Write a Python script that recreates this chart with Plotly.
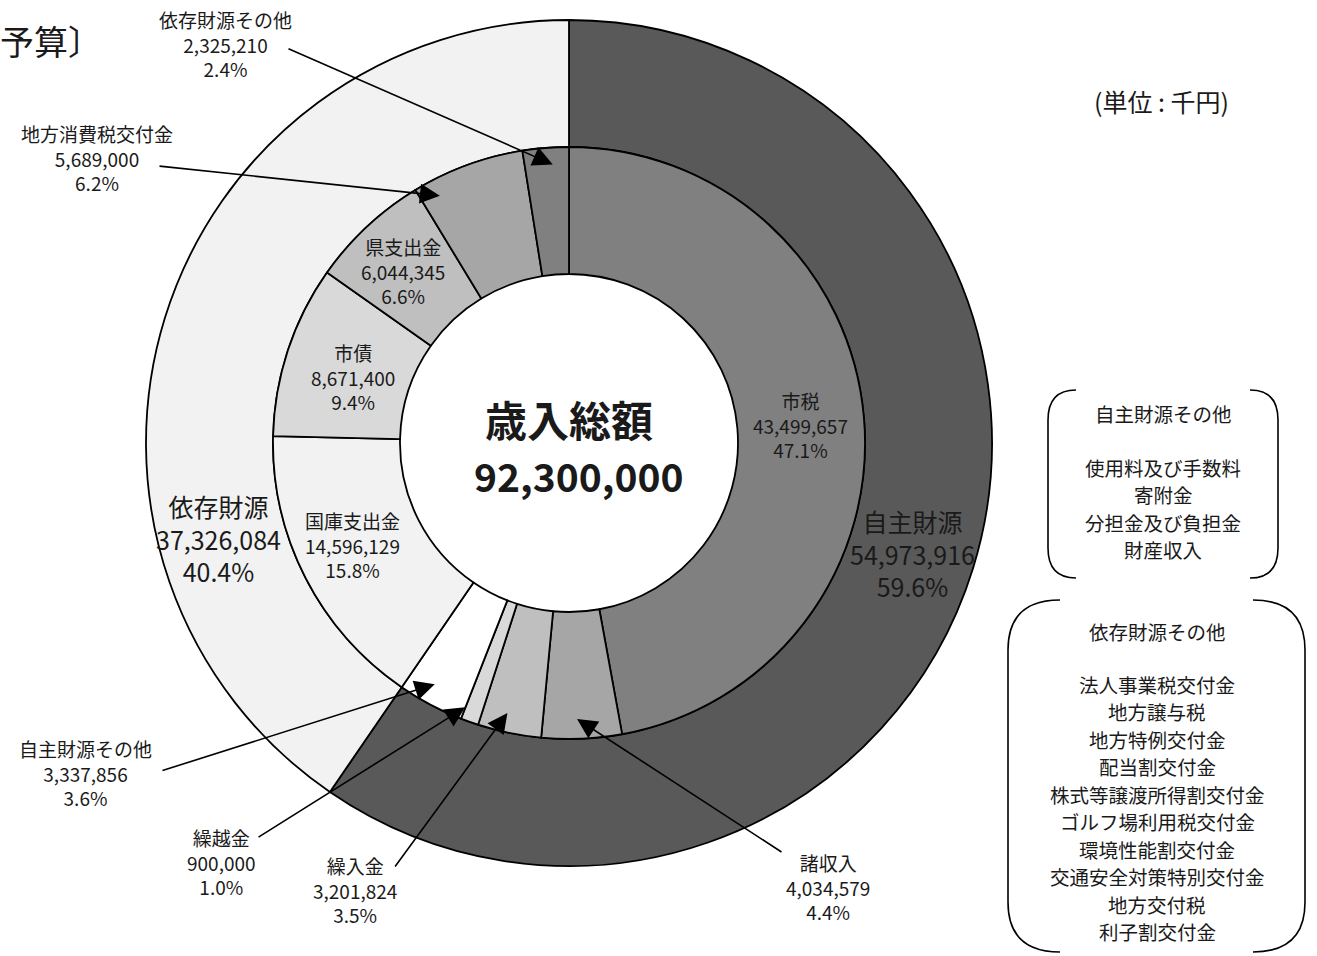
import math
import plotly.graph_objects as go

# ---------------- data ----------------
total_label = "歳入総額"
total_value = 92300000

outer_labels = ["自主財源", "依存財源"]
outer_values = [54973916, 37326084]
outer_pct = ["59.6%", "40.4%"]
outer_colors = ["#595959", "#f2f2f2"]

inner_labels = ["市税", "諸収入", "繰入金", "繰越金", "自主財源その他",
                "国庫支出金", "市債", "県支出金", "地方消費税交付金", "依存財源その他"]
inner_values = [43499657, 4034579, 3201824, 900000, 3337856,
                14596129, 8671400, 6044345, 5689000, 2325210]
inner_pct = ["47.1%", "4.4%", "3.5%", "1.0%", "3.6%",
             "15.8%", "9.4%", "6.6%", "6.2%", "2.4%"]
inner_colors = ["#808080", "#a6a6a6", "#bfbfbf", "#d9d9d9", "#ffffff",
                "#f2f2f2", "#d9d9d9", "#bfbfbf", "#a6a6a6", "#808080"]

own_other_title = "自主財源その他"
own_other_items = ["使用料及び手数料", "寄附金", "分担金及び負担金", "財産収入"]
dep_other_title = "依存財源その他"
dep_other_items = ["法人事業税交付金", "地方譲与税", "地方特例交付金", "配当割交付金",
                   "株式等譲渡所得割交付金", "ゴルフ場利用税交付金", "環境性能割交付金",
                   "交通安全対策特別交付金", "地方交付税", "利子割交付金"]

unit_text = "(単位 : 千円)"
corner_title = "予算〕"

# ---------------- layout geometry (pixels) ----------------
W, H = 1317, 956
CX, CY = 569, 443
R_OUT, R_MID, R_IN = 423, 296, 169
FONT = "Noto Sans CJK JP"
TXT = "#1a1a1a"


def P(px):
    return px / W


def Q(py):
    return 1 - py / H


def domain(r):
    return dict(x=[P(CX - r), P(CX + r)], y=[Q(CY + r), Q(CY - r)])


fig = go.Figure()
fig.add_trace(go.Pie(
    labels=outer_labels, values=outer_values, sort=False, direction="clockwise",
    rotation=0, hole=R_MID / R_OUT, domain=domain(R_OUT),
    marker=dict(colors=outer_colors, line=dict(color="black", width=1.8)),
    textinfo="none", hoverinfo="label+value", showlegend=False,
))
fig.add_trace(go.Pie(
    labels=inner_labels, values=inner_values, sort=False, direction="clockwise",
    rotation=0, hole=R_IN / R_MID, domain=domain(R_MID),
    marker=dict(colors=inner_colors, line=dict(color="black", width=1.8)),
    textinfo="none", hoverinfo="label+value", showlegend=False,
))

ann = []


def text_at(px, py, text, size, bold=False, xanchor="center"):
    ann.append(dict(x=P(px), y=Q(py), xref="paper", yref="paper", text=text,
                    showarrow=False, xanchor=xanchor, yanchor="middle",
                    font=dict(family=FONT, size=size, color=TXT,
                              weight="bold" if bold else "normal")))


def lbl(name, value, pct):
    return f"{name}<br>{value:,}<br>{pct}"


# centre
text_at(569, 418, total_label, 42, bold=True)
text_at(578, 475, f"{total_value:,}", 39, bold=True)

# outer ring labels
outer_pos = [(912, 553), (218, 538)]
for name, v, pc, (px, py) in zip(outer_labels, outer_values, outer_pct, outer_pos):
    text_at(px, py, lbl(name, v, pc), 25)

# inner labels inside the ring
inside_pos = {"市税": (800, 425), "国庫支出金": (353, 545),
              "市債": (353, 377), "県支出金": (403, 271)}
# callouts: label centre, line tail, angle nudge (deg), tip radius
callouts = {
    "依存財源その他": ((225, 44), (287, 48), 1.2, 279),
    "地方消費税交付金": ((97, 158), (158, 166), -7.4, 279),
    "自主財源その他": ((85, 773), (161, 771), 1.2, 276),
    "繰越金": ((221, 862), (257, 838), 1.8, 284),
    "繰入金": ((355, 890), (394, 868), 1.2, 277),
    "諸収入": ((828, 887), (783, 853), 0.8, 276),
}

total = sum(inner_values)
cum = 0.0
for name, v, pc in zip(inner_labels, inner_values, inner_pct):
    mid = (cum + v / 2) / total * 360.0
    cum += v
    if name in inside_pos:
        px, py = inside_pos[name]
        text_at(px, py, lbl(name, v, pc), 19)
    elif name in callouts:
        (lx, ly), (tx, ty), nudge, rr = callouts[name]
        text_at(lx, ly, lbl(name, v, pc), 19)
        a = math.radians(mid + nudge)
        hx = CX + rr * math.sin(a)
        hy = CY - rr * math.cos(a)
        ann.append(dict(x=P(hx), y=Q(hy), xref="paper", yref="paper", text="",
                        showarrow=True, axref="pixel", ayref="pixel",
                        ax=tx - hx, ay=ty - hy, arrowhead=2, arrowsize=2.5,
                        arrowwidth=1.6, arrowcolor="black", standoff=0))

# unit and corner title
text_at(1161, 101, unit_text, 25)
text_at(-2, 40, corner_title, 34, xanchor="left")

# side boxes: one annotation per line
BOX_FONT = 19.5
BOX_STEP = 27.5
text_at(1163, 413, own_other_title, BOX_FONT)
for i, item in enumerate(own_other_items):
    text_at(1163, 467 + i * BOX_STEP, item, BOX_FONT)
text_at(1157, 631, dep_other_title, BOX_FONT)
for i, item in enumerate(dep_other_items):
    text_at(1157, 684 + i * BOX_STEP, item, BOX_FONT)

shapes = []


def bracket(xl, xr, yt, yb, rad, span):
    paths = [
        f"M {P(xl + span)},{Q(yt)} Q {P(xl)},{Q(yt)} {P(xl)},{Q(yt + rad)} "
        f"L {P(xl)},{Q(yb - rad)} Q {P(xl)},{Q(yb)} {P(xl + span)},{Q(yb)}",
        f"M {P(xr - span)},{Q(yt)} Q {P(xr)},{Q(yt)} {P(xr)},{Q(yt + rad)} "
        f"L {P(xr)},{Q(yb - rad)} Q {P(xr)},{Q(yb)} {P(xr - span)},{Q(yb)}",
    ]
    for p in paths:
        shapes.append(dict(type="path", path=p, xref="paper", yref="paper",
                           line=dict(color="black", width=1.6)))


bracket(1048, 1278, 390, 578, 30, 28)
bracket(1008, 1305, 600, 952, 50, 52)

fig.update_layout(
    width=W, height=H, margin=dict(l=0, r=0, t=0, b=0),
    paper_bgcolor="white", plot_bgcolor="white",
    annotations=ann, shapes=shapes, showlegend=False,
    font=dict(family=FONT, color=TXT),
)

fig.write_html("out.html", config={"displayModeBar": False},
               post_script="document.body.style.margin='0px';")
